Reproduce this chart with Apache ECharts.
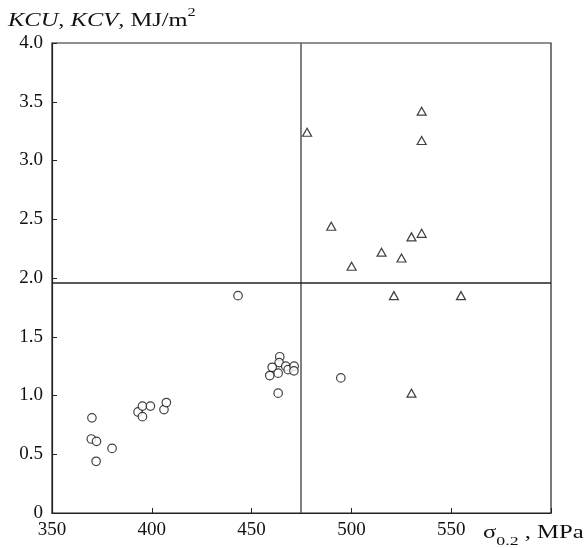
<!DOCTYPE html>
<html>
<head>
<meta charset="utf-8">
<script src="https://cdn.jsdelivr.net/npm/echarts@6/dist/echarts.min.js"></script>
<style>
  html, body { margin: 0; padding: 0; background: #fff; }
  #chart { width: 585px; height: 548px; }
</style>
</head>
<body>
<div id="chart"></div>
<script>
// Yield strength (MPa) vs. impact toughness (MJ/m2)
const circleX = [370.0, 369.7, 372.3, 372.1, 380.1, 393.1, 395.3, 395.3, 399.3, 406.1, 407.3,
                 443.2, 464.1, 463.8, 460.3, 459.1, 463.3, 467.1, 468.3, 471.3, 471.2, 463.3, 494.7];
const circleY = [0.81, 0.63, 0.61, 0.44, 0.55, 0.86, 0.91, 0.82, 0.91, 0.88, 0.94,
                 1.85, 1.33, 1.28, 1.24, 1.17, 1.19, 1.25, 1.22, 1.25, 1.21, 1.02, 1.15];

const triX = [477.8, 535.2, 535.2, 489.9, 500.1, 515.1, 525.1, 530.1, 535.2, 521.3, 554.9, 530.1];
const triY = [3.24, 3.42, 3.17, 2.44, 2.10, 2.22, 2.17, 2.35, 2.38, 1.85, 1.85, 1.02];

// Threshold lines dividing the plane into quadrants
const thresholdX = 474.7;
const thresholdY = 1.96;

const xTicks = [350, 400, 450, 500, 550];
const yTicks = [0, 0.5, 1.0, 1.5, 2.0, 2.5, 3.0, 3.5, 4.0];

const FONT = '"Liberation Serif", "DejaVu Serif", serif';

const pairs = (xs, ys) => xs.map((x, i) => [x, ys[i]]);

const chart = echarts.init(document.getElementById('chart'), null, { renderer: 'canvas' });

chart.setOption({
  animation: false,
  backgroundColor: '#fff',
  grid: { left: 52, right: 34, top: 43, bottom: 35, show: true, borderColor: '#222', borderWidth: 1.2, backgroundColor: 'transparent' },
  xAxis: {
    type: 'value', min: 350, max: 600, interval: 50,
    axisLine: { show: true, lineStyle: { color: '#222', width: 1.2 } },
    axisTick: { show: true, inside: true, length: 5, lineStyle: { color: '#222', width: 1 } },
    splitLine: { show: false },
    axisLabel: {
      color: '#111', fontFamily: FONT, fontSize: 19, margin: 8,
      formatter: v => xTicks.includes(v) ? String(v) : ''
    }
  },
  yAxis: {
    type: 'value', min: 0, max: 4, interval: 0.5,
    axisLine: { show: true, lineStyle: { color: '#222', width: 1.2 } },
    axisTick: { show: true, inside: true, length: 5, lineStyle: { color: '#222', width: 1 } },
    splitLine: { show: false },
    axisLabel: {
      color: '#111', fontFamily: FONT, fontSize: 19, margin: 9,
      formatter: v => yTicks.includes(v) ? (v === 0 ? '0' : v.toFixed(1)) : ''
    }
  },
  graphic: [
    {
      // y-axis caption, stretched horizontally
      type: 'text', x: 8, y: 7, scaleX: 1.36, scaleY: 1,
      style: {
        text: '{i|KCU}{r|, }{i|KCV}{r|, MJ/m}{s|2}',
        textVerticalAlign: 'top',
        rich: {
          i: { fontFamily: FONT, fontStyle: 'italic', fontSize: 18, fill: '#111', lineHeight: 23, verticalAlign: 'bottom' },
          r: { fontFamily: FONT, fontSize: 18, fill: '#111', lineHeight: 23, verticalAlign: 'bottom' },
          s: { fontFamily: FONT, fontSize: 12, fill: '#111', lineHeight: 23, verticalAlign: 'top' }
        }
      }
    },
    {
      // x-axis caption
      type: 'text', x: 483, y: 524, scaleX: 1.37, scaleY: 1,
      style: {
        text: '{r|σ}{b|0.2}{r| , MPa}',
        textVerticalAlign: 'top',
        rich: {
          r: { fontFamily: FONT, fontSize: 18, fill: '#111', lineHeight: 24, verticalAlign: 'top' },
          b: { fontFamily: FONT, fontSize: 13, fill: '#111', lineHeight: 24, verticalAlign: 'bottom' }
        }
      }
    }
  ],
  series: [
    {
      type: 'scatter',
      data: pairs(circleX, circleY),
      symbol: 'circle', symbolSize: 8.5,
      itemStyle: { color: '#fff', borderColor: '#111', borderWidth: 1.2 },
      markLine: {
        silent: true, symbol: 'none',
        label: { show: false },
        data: [
          { xAxis: thresholdX, lineStyle: { color: '#555', width: 1.5, type: 'solid' } },
          { yAxis: thresholdY, lineStyle: { color: '#222', width: 1.5, type: 'solid' } }
        ]
      },
      z: 3
    },
    {
      type: 'scatter',
      data: pairs(triX, triY),
      symbol: 'triangle', symbolSize: [9, 8],
      itemStyle: { color: '#fff', borderColor: '#111', borderWidth: 1.2 },
      z: 3
    }
  ]
});
</script>
</body>
</html>
